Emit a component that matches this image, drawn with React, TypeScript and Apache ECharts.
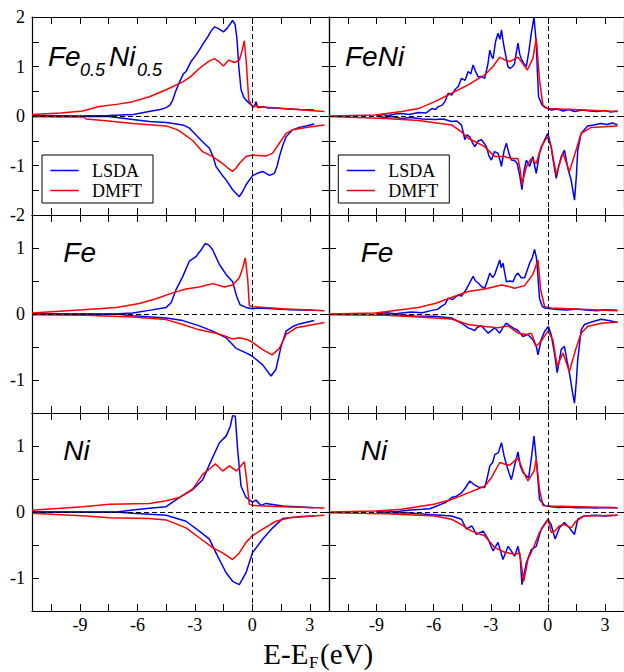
import React, { useEffect, useRef } from "react";
import * as echarts from "echarts";

type Pt = [number, number];

// ---- axes ----
const xMin = -11.5;
const xMax = 4;
const xTickValues = [-10.5, -9, -7.5, -6, -4.5, -3, -1.5, 0, 1.5, 3];
const xTickLabels = [-9, -6, -3, 0, 3];
const yRangeTop: [number, number] = [-2, 2];
const yRangeLower: [number, number] = [-1.5, 1.5];
const yTicksTop = [-1.5, -1, -0.5, 0, 0.5, 1, 1.5];
const yTicksLower = [-1, -0.5, 0, 0.5, 1];
const yLabelsTop = [-2, -1, 0, 1, 2];
const yLabelsLower = [-1, 0, 1];
const seriesNames = ["LSDA", "DMFT"];
const xTitle = ["E-E", "F", "(eV)"];

// ---- Fe0.5Ni0.5 (top left) ----
const A_lsda_up: Pt[] = [[-11.5,0.01],[-9,0.0],[-7.5,0.01],[-6.2,0.03],[-5.4,0.09],[-4.8,0.13],[-4.5,0.17],[-4.3,0.22],[-4.16,0.32],[-4.0,0.5],[-3.8,0.69],[-3.6,0.85],[-3.46,0.9],[-3.2,1.1],[-3.0,1.2],[-2.77,1.33],[-2.55,1.47],[-2.33,1.6],[-2.15,1.72],[-1.98,1.8],[-1.75,1.76],[-1.51,1.7],[-1.3,1.78],[-1.03,1.93],[-0.9,1.85],[-0.8,1.55],[-0.71,1.0],[-0.59,0.53],[-0.45,0.38],[-0.33,0.32],[0,0.2],[0.1,0.18],[0.19,0.29],[0.28,0.17],[0.37,0.17],[0.6,0.19],[0.8,0.16],[1.2,0.16],[1.5,0.15],[2.0,0.14],[2.5,0.13],[3.23,0.12]];
const A_dmft_up: Pt[] = [[-11.5,0.03],[-10,0.06],[-8.85,0.1],[-8,0.19],[-7,0.24],[-6.24,0.29],[-5.37,0.39],[-4.5,0.53],[-3.63,0.69],[-3.2,0.8],[-2.77,0.96],[-2.3,1.1],[-1.98,1.16],[-1.75,1.1],[-1.51,1.01],[-1.23,1.13],[-0.94,1.08],[-0.68,1.13],[-0.55,1.3],[-0.42,1.52],[-0.3,1.0],[-0.19,0.32],[0,0.2],[0.5,0.18],[1,0.17],[2,0.14],[3,0.11],[3.76,0.09]];
const A_lsda_dn: Pt[] = [[-11.5,-0.01],[-7.5,-0.01],[-6.24,-0.07],[-5.37,-0.11],[-4.5,-0.13],[-3.63,-0.18],[-3.3,-0.24],[-3.1,-0.32],[-2.6,-0.52],[-2.24,-0.65],[-2.05,-0.82],[-1.9,-1.02],[-1.6,-1.18],[-1.37,-1.29],[-1.03,-1.49],[-0.68,-1.63],[-0.5,-1.52],[-0.33,-1.39],[0,-1.21],[0.3,-1.15],[0.54,-1.12],[0.89,-1.2],[1.15,-1.16],[1.3,-1.0],[1.41,-0.82],[1.6,-0.58],[1.76,-0.42],[2.1,-0.28],[2.45,-0.23],[2.8,-0.2],[3.23,-0.16]];
const A_dmft_dn: Pt[] = [[-11.5,-0.01],[-8.8,-0.02],[-8.68,-0.06],[-7.5,-0.1],[-6.24,-0.15],[-4.5,-0.2],[-3.9,-0.28],[-3.63,-0.35],[-3.1,-0.5],[-2.6,-0.72],[-2.07,-0.82],[-1.55,-0.96],[-1.25,-1.06],[-1.03,-1.12],[-0.85,-1.05],[-0.68,-0.96],[-0.33,-0.82],[0.02,-0.79],[0.71,-0.81],[1.06,-0.75],[1.41,-0.55],[1.76,-0.35],[2.1,-0.28],[2.97,-0.22],[3.76,-0.18]];

// ---- FeNi (top right) ----
const D_lsda_up: Pt[] = [[-9,0.0],[-8.7,0.03],[-8.4,0.01],[-8.0,0.04],[-7.68,0.05],[-7.3,0.03],[-6.8,0.07],[-6.4,0.06],[-6.1,0.15],[-5.9,0.13],[-5.76,0.19],[-5.55,0.22],[-5.41,0.29],[-5.24,0.46],[-5.05,0.42],[-4.89,0.53],[-4.7,0.6],[-4.54,0.76],[-4.35,0.72],[-4.19,0.9],[-4.05,0.85],[-3.93,1.03],[-3.8,0.9],[-3.66,0.79],[-3.5,0.8],[-3.32,0.76],[-3.15,1.05],[-3.05,1.33],[-2.95,1.2],[-2.88,1.16],[-2.75,1.5],[-2.62,1.67],[-2.52,1.55],[-2.44,1.74],[-2.35,1.5],[-2.27,1.33],[-2.1,1.0],[-2.0,0.96],[-1.85,1.0],[-1.75,1.06],[-1.65,1.3],[-1.57,1.47],[-1.48,1.25],[-1.4,1.16],[-1.25,1.05],[-1.13,1.0],[-1.0,1.3],[-0.87,1.67],[-0.73,2.0],[-0.61,1.47],[-0.55,0.9],[-0.49,0.39],[-0.3,0.22],[-0.17,0.18],[0.17,0.12],[0.5,0.14],[0.8,0.1],[1.1,0.13],[1.4,0.09],[1.8,0.12],[2.2,0.1],[2.6,0.09],[3.0,0.11],[3.3,0.08],[3.66,0.1]];
const D_dmft_up: Pt[] = [[-11.5,0],[-9.07,0.02],[-7.68,0.09],[-6.8,0.15],[-5.93,0.29],[-5.06,0.46],[-4.19,0.63],[-3.32,0.83],[-2.88,1.0],[-2.53,1.19],[-2.2,1.12],[-2.0,1.1],[-1.57,1.19],[-1.3,1.05],[-1.08,0.93],[-0.79,1.16],[-0.61,1.57],[-0.44,0.73],[-0.26,0.22],[0,0.15],[1.92,0.12],[3.66,0.09]];
const D_lsda_dn: Pt[] = [[-9,0],[-8.6,-0.03],[-8.2,-0.01],[-7.7,-0.05],[-7.2,-0.03],[-6.6,-0.06],[-5.93,-0.07],[-5.5,-0.06],[-5.06,-0.11],[-4.8,-0.1],[-4.54,-0.18],[-4.36,-0.48],[-4.25,-0.38],[-4.1,-0.42],[-3.95,-0.55],[-3.84,-0.62],[-3.65,-0.5],[-3.49,-0.48],[-3.35,-0.55],[-3.23,-0.62],[-3.1,-0.8],[-2.97,-0.89],[-2.8,-0.72],[-2.62,-0.75],[-2.5,-0.92],[-2.44,-1.02],[-2.3,-0.7],[-2.18,-0.55],[-2.05,-0.75],[-1.92,-0.89],[-1.75,-0.9],[-1.61,-0.96],[-1.48,-1.2],[-1.36,-1.49],[-1.25,-1.1],[-1.13,-0.89],[-0.96,-1.02],[-0.79,-0.82],[-0.7,-1.0],[-0.61,-1.16],[-0.5,-0.9],[-0.44,-0.75],[-0.3,-0.6],[-0.17,-0.48],[0,-0.35],[0.17,-0.62],[0.3,-0.95],[0.44,-1.26],[0.58,-1.0],[0.7,-0.82],[0.87,-0.69],[1.05,-1.06],[1.22,-1.29],[1.4,-1.7],[1.5,-1.2],[1.57,-0.69],[1.75,-0.35],[2.09,-0.2],[2.4,-0.18],[2.79,-0.15],[3.1,-0.17],[3.4,-0.14],[3.66,-0.18]];
const D_dmft_dn: Pt[] = [[-11.5,-0.01],[-8.5,-0.05],[-6.8,-0.09],[-5.06,-0.18],[-4.54,-0.32],[-4.19,-0.45],[-3.66,-0.55],[-3.32,-0.62],[-2.79,-0.82],[-2.27,-0.82],[-1.92,-0.86],[-1.57,-0.86],[-1.45,-1.1],[-1.36,-1.39],[-1.13,-1.02],[-0.87,-0.86],[-0.61,-0.96],[-0.35,-0.62],[-0.03,-0.42],[0.17,-0.62],[0.44,-1.18],[0.79,-0.75],[1.13,-1.12],[1.48,-0.69],[1.75,-0.35],[2.27,-0.23],[3.66,-0.2]];

// ---- Fe in Fe0.5Ni0.5 (middle left) ----
const B_lsda_up: Pt[] = [[-11.5,0.0],[-7,0.005],[-6.24,0.015],[-5.4,0.055],[-4.5,0.1],[-4.24,0.17],[-3.98,0.37],[-3.63,0.57],[-3.29,0.8],[-2.94,0.87],[-2.68,0.97],[-2.45,1.07],[-2.25,1.04],[-2.07,0.97],[-1.72,0.75],[-1.37,0.6],[-1.03,0.49],[-0.82,0.27],[-0.64,0.14],[-0.33,0.1],[0,0.08],[0.37,0.09],[1,0.08],[2,0.065],[3.23,0.055]];
const B_dmft_up: Pt[] = [[-11.5,0.015],[-8.85,0.065],[-7.1,0.1],[-5.9,0.16],[-5.03,0.23],[-4.16,0.32],[-3.46,0.38],[-2.77,0.41],[-2.07,0.46],[-1.46,0.41],[-1.03,0.44],[-0.68,0.55],[-0.5,0.7],[-0.37,0.85],[-0.24,0.52],[-0.16,0.13],[0,0.11],[1.58,0.08],[3.76,0.05]];
const B_lsda_dn: Pt[] = [[-11.5,0],[-7,-0.005],[-6.24,-0.025],[-4.5,-0.06],[-3.63,-0.1],[-2.77,-0.18],[-2.07,-0.26],[-1.37,-0.36],[-0.85,-0.52],[-0.33,-0.59],[0,-0.64],[0.54,-0.77],[0.97,-0.94],[1.23,-0.84],[1.5,-0.49],[1.76,-0.26],[2.1,-0.19],[2.45,-0.15],[3.23,-0.1]];
const B_dmft_dn: Pt[] = [[-11.5,-0.01],[-8.68,-0.02],[-6.24,-0.045],[-4.5,-0.085],[-3.63,-0.16],[-2.77,-0.24],[-1.9,-0.29],[-1.37,-0.34],[-1.03,-0.38],[-0.68,-0.36],[-0.24,-0.39],[0,-0.43],[0.54,-0.54],[1.03,-0.62],[1.41,-0.52],[1.76,-0.31],[2.28,-0.21],[3.76,-0.13]];

// ---- Fe in FeNi (middle right) ----
const E_lsda_up: Pt[] = [[-9,0],[-8.5,0.02],[-8,0.005],[-7.68,0.015],[-7.2,0.03],[-6.6,0.02],[-6.1,0.055],[-5.8,0.07],[-5.58,0.12],[-5.4,0.15],[-5.24,0.24],[-5.0,0.22],[-4.71,0.29],[-4.55,0.27],[-4.36,0.34],[-4.15,0.45],[-3.93,0.57],[-3.8,0.5],[-3.66,0.47],[-3.5,0.42],[-3.32,0.39],[-3.18,0.5],[-3.05,0.62],[-2.9,0.55],[-2.79,0.6],[-2.65,0.72],[-2.53,0.82],[-2.45,0.7],[-2.36,0.77],[-2.25,0.6],[-2.18,0.49],[-2.0,0.5],[-1.83,0.49],[-1.7,0.58],[-1.57,0.62],[-1.4,0.55],[-1.22,0.55],[-1.1,0.65],[-0.96,0.77],[-0.82,0.85],[-0.7,0.98],[-0.6,0.85],[-0.56,0.72],[-0.44,0.24],[-0.3,0.12],[-0.17,0.09],[0.17,0.08],[0.5,0.07],[1.0,0.06],[1.5,0.075],[2,0.06],[2.6,0.05],[3.0,0.065],[3.66,0.055]];
const E_dmft_up: Pt[] = [[-11.5,0],[-9.07,0.015],[-6.8,0.1],[-5.93,0.16],[-5.06,0.25],[-4.19,0.34],[-3.32,0.38],[-2.44,0.44],[-2.1,0.42],[-1.75,0.39],[-1.22,0.43],[-0.79,0.6],[-0.52,0.82],[-0.38,0.37],[-0.17,0.11],[0.17,0.09],[3.66,0.05]];
const E_lsda_dn: Pt[] = [[-9,0],[-8.5,-0.02],[-7.68,-0.015],[-7,-0.03],[-5.93,-0.035],[-5.06,-0.06],[-4.54,-0.14],[-4.19,-0.21],[-3.84,-0.25],[-3.7,-0.2],[-3.49,-0.18],[-3.3,-0.24],[-3.14,-0.29],[-2.79,-0.21],[-2.53,-0.29],[-2.35,-0.2],[-2.18,-0.14],[-1.83,-0.21],[-1.57,-0.25],[-1.31,-0.34],[-1.05,-0.31],[-0.79,-0.39],[-0.6,-0.5],[-0.52,-0.62],[-0.35,-0.39],[-0.17,-0.26],[0.03,-0.19],[0.17,-0.31],[0.35,-0.6],[0.49,-0.89],[0.7,-0.54],[0.87,-0.49],[1.0,-0.7],[1.13,-0.89],[1.3,-1.2],[1.4,-1.35],[1.5,-1.0],[1.57,-0.69],[1.75,-0.24],[1.92,-0.16],[2.3,-0.12],[2.79,-0.08],[3.2,-0.1],[3.66,-0.13]];
const E_dmft_dn: Pt[] = [[-11.5,-0.01],[-8.5,-0.02],[-6.8,-0.045],[-5.06,-0.075],[-4.19,-0.16],[-3.32,-0.19],[-2.62,-0.21],[-2.09,-0.18],[-1.57,-0.29],[-1.13,-0.31],[-0.87,-0.29],[-0.61,-0.49],[-0.35,-0.41],[0,-0.26],[0.26,-0.39],[0.49,-0.79],[0.79,-0.59],[1.13,-0.87],[1.48,-0.52],[1.75,-0.29],[2.09,-0.19],[2.79,-0.14],[3.66,-0.12]];

// ---- Ni in Fe0.5Ni0.5 (bottom left) ----
const C_lsda_up: Pt[] = [[-11.5,0],[-7,0.005],[-6.24,0.03],[-5.37,0.055],[-4.5,0.08],[-3.8,0.22],[-3.11,0.34],[-2.59,0.49],[-2.16,0.77],[-1.72,1.05],[-1.37,1.15],[-1.15,1.3],[-1.03,1.46],[-0.89,1.45],[-0.77,0.95],[-0.59,0.39],[-0.33,0.22],[0,0.15],[0.19,0.18],[0.45,0.1],[0.71,0.13],[1.58,0.09],[3.23,0.065]];
const C_dmft_up: Pt[] = [[-11.5,0.025],[-8.85,0.08],[-7.46,0.116],[-5.37,0.13],[-4.5,0.17],[-3.8,0.22],[-3.11,0.35],[-2.59,0.57],[-2.16,0.67],[-1.93,0.73],[-1.55,0.62],[-1.2,0.7],[-0.82,0.62],[-0.42,0.76],[-0.3,0.49],[-0.16,0.12],[0,0.1],[1.58,0.08],[3.76,0.06]];
const C_lsda_dn: Pt[] = [[-11.5,0],[-7,-0.005],[-6.24,-0.02],[-4.5,-0.05],[-3.46,-0.14],[-2.77,-0.29],[-2.24,-0.41],[-1.9,-0.62],[-1.37,-0.92],[-1.03,-1.05],[-0.68,-1.1],[-0.33,-0.92],[0,-0.62],[0.54,-0.41],[1.06,-0.24],[1.58,-0.1],[2.45,-0.07],[3.23,-0.06]];
const C_dmft_dn: Pt[] = [[-11.5,-0.02],[-8.68,-0.06],[-7.46,-0.086],[-5.37,-0.1],[-4.5,-0.12],[-3.46,-0.24],[-2.77,-0.39],[-2.07,-0.54],[-1.55,-0.62],[-1.03,-0.72],[-0.68,-0.62],[-0.33,-0.46],[0,-0.36],[0.54,-0.26],[1.23,-0.14],[1.93,-0.086],[3.76,-0.05]];

// ---- Ni in FeNi (bottom right) ----
const F_lsda_up: Pt[] = [[-9,0],[-8.5,0.02],[-8,0.005],[-7.68,0.015],[-7.2,0.03],[-6.6,0.04],[-6.2,0.05],[-5.93,0.08],[-5.6,0.12],[-5.41,0.14],[-5.2,0.18],[-5.06,0.22],[-4.8,0.24],[-4.54,0.29],[-4.35,0.36],[-4.1,0.47],[-3.9,0.42],[-3.66,0.38],[-3.32,0.37],[-3.2,0.5],[-3.05,0.7],[-2.9,0.75],[-2.79,0.87],[-2.6,0.9],[-2.44,1.05],[-2.3,0.85],[-2.18,0.72],[-2.05,0.6],[-1.92,0.49],[-1.75,0.7],[-1.57,0.91],[-1.45,0.7],[-1.31,0.6],[-1.15,0.55],[-1.01,0.52],[-0.85,0.85],[-0.73,1.15],[-0.61,0.8],[-0.44,0.19],[-0.17,0.1],[0.17,0.08],[0.6,0.07],[1.0,0.075],[1.5,0.065],[2.0,0.07],[2.5,0.06],[3.0,0.07],[3.66,0.065]];
const F_dmft_up: Pt[] = [[-11.5,0],[-9.07,0.015],[-7.68,0.04],[-5.93,0.12],[-5.06,0.19],[-4.19,0.29],[-3.32,0.39],[-2.97,0.52],[-2.53,0.75],[-2.2,0.72],[-2.0,0.71],[-1.57,0.82],[-1.3,0.62],[-1.05,0.47],[-0.73,0.62],[-0.61,0.8],[-0.44,0.34],[-0.26,0.1],[0.17,0.09],[3.66,0.065]];
const F_lsda_dn: Pt[] = [[-9,0],[-8.5,-0.02],[-7.5,-0.01],[-6.8,-0.025],[-5.06,-0.06],[-4.54,-0.11],[-4.28,-0.26],[-4.0,-0.21],[-3.75,-0.34],[-3.4,-0.29],[-3.14,-0.41],[-2.88,-0.59],[-2.62,-0.46],[-2.36,-0.72],[-2.09,-0.52],[-1.9,-0.6],[-1.75,-0.67],[-1.57,-0.52],[-1.45,-0.7],[-1.36,-1.1],[-1.13,-0.77],[-0.87,-0.57],[-0.61,-0.52],[-0.35,-0.26],[0,-0.11],[0.17,-0.19],[0.38,-0.41],[0.61,-0.24],[0.87,-0.16],[1.13,-0.24],[1.4,-0.34],[1.57,-0.11],[1.9,-0.06],[2.5,-0.05],[3.0,-0.06],[3.66,-0.05]];
const F_dmft_dn: Pt[] = [[-11.5,-0.01],[-8.5,-0.025],[-5.93,-0.06],[-5.06,-0.11],[-4.54,-0.19],[-4.01,-0.29],[-3.32,-0.36],[-2.79,-0.54],[-2.27,-0.61],[-1.75,-0.64],[-1.48,-0.62],[-1.27,-1.05],[-1.05,-0.72],[-0.73,-0.52],[-0.44,-0.31],[-0.17,-0.19],[0.03,-0.11],[0.17,-0.31],[0.35,-0.29],[0.61,-0.21],[0.87,-0.19],[1.22,-0.24],[1.48,-0.14],[1.92,-0.06],[3.66,-0.05]];

const panelData = [
  { lsda: [A_lsda_up, A_lsda_dn], dmft: [A_dmft_up, A_dmft_dn] },
  { lsda: [D_lsda_up, D_lsda_dn], dmft: [D_dmft_up, D_dmft_dn] },
  { lsda: [B_lsda_up, B_lsda_dn], dmft: [B_dmft_up, B_dmft_dn] },
  { lsda: [E_lsda_up, E_lsda_dn], dmft: [E_dmft_up, E_dmft_dn] },
  { lsda: [C_lsda_up, C_lsda_dn], dmft: [C_dmft_up, C_dmft_dn] },
  { lsda: [F_lsda_up, F_lsda_dn], dmft: [F_dmft_up, F_dmft_dn] },
];

const BLUE = "#0000ff";
const RED = "#ff0000";
const SERIF = "Liberation Serif";
const SANS = "Liberation Sans";

const colLeft = [32, 329];
const colRight = [624 - 329, -2];
const rowTop = [17, 215, 413];
const rowH = 198;

function buildOption() {
  const grid: any[] = [];
  const xAxis: any[] = [];
  const yAxis: any[] = [];
  const series: any[] = [];
  const axisLine = { show: true, onZero: false, lineStyle: { color: "#000", width: 1.2 } };
  for (let r = 0; r < 3; r++) {
    for (let c = 0; c < 2; c++) {
      const i = r * 2 + c;
      grid.push({ left: colLeft[c], right: colRight[c], top: rowTop[r], height: rowH, containLabel: false });
      const yr = r === 0 ? yRangeTop : yRangeLower;
      const yt = r === 0 ? yTicksTop : yTicksLower;
      const yl = r === 0 ? yLabelsTop : yLabelsLower;
      const tick = (vals: number[]) => ({ show: true, inside: true, length: 7, customValues: vals, lineStyle: { color: "#000", width: 1 } });
      xAxis.push({
        gridIndex: i, type: "value", min: xMin, max: xMax, position: "bottom",
        axisLine, axisTick: tick(xTickValues), splitLine: { show: false },
        axisLabel: { show: r === 2, customValues: xTickLabels, fontSize: 18, fontFamily: SERIF, color: "#000", margin: 5 },
      });
      xAxis.push({
        gridIndex: i, type: "value", min: xMin, max: xMax, position: "top",
        axisLine, axisTick: tick(xTickValues), splitLine: { show: false }, axisLabel: { show: false },
      });
      yAxis.push({
        gridIndex: i, type: "value", min: yr[0], max: yr[1], position: "left",
        axisLine, axisTick: tick(yt), splitLine: { show: false },
        axisLabel: { show: c === 0, customValues: yl, fontSize: 18, fontFamily: SERIF, color: "#000", margin: 7 },
      });
      yAxis.push({
        gridIndex: i, type: "value", min: yr[0], max: yr[1], position: "right",
        axisLine, axisTick: tick(yt), splitLine: { show: false }, axisLabel: { show: false },
      });
      const p = panelData[i];
      const mk = (name: string, data: Pt[], color: string, withMark: boolean) => {
        const s: any = {
          name, type: "line", xAxisIndex: 2 * i, yAxisIndex: 2 * i, data,
          showSymbol: false, symbol: "none", silent: true, clip: true,
          lineStyle: { color, width: 1.5 }, itemStyle: { color },
        };
        if (withMark) {
          s.markLine = {
            silent: true, symbol: "none", label: { show: false }, animation: false,
            lineStyle: { color: "#000", type: [5, 3], width: 1 },
            data: [{ xAxis: 0 }, { yAxis: 0 }],
          };
        }
        return s;
      };
      series.push(mk(seriesNames[0], p.lsda[0], BLUE, true));
      series.push(mk(seriesNames[0], p.lsda[1], BLUE, false));
      series.push(mk(seriesNames[1], p.dmft[0], RED, false));
      series.push(mk(seriesNames[1], p.dmft[1], RED, false));
    }
  }

  const label = (text: string, x: number, baseline: number, size: number) => ({
    type: "text", x, y: baseline - 0.35 * size, z: 100,
    style: { text, fontSize: size, fontFamily: SANS, fontStyle: "italic", fill: "#000", align: "left", verticalAlign: "middle" },
  });
  const serifText = (text: string, x: number, baseline: number, size: number) => ({
    type: "text", x, y: baseline - 0.3375 * size, z: 100,
    style: { text, fontSize: size, fontFamily: SERIF, fill: "#000", align: "left", verticalAlign: "middle" },
  });
  const legend = (x0: number) => [
    { type: "rect", z: 99, shape: { x: x0, y: 155, width: 111, height: 48 }, style: { fill: "#fff", stroke: "#000", lineWidth: 1 } },
    { type: "line", z: 100, shape: { x1: x0 + 8.4, y1: 170.5, x2: x0 + 36.7, y2: 170.5 }, style: { stroke: BLUE, lineWidth: 1.5 } },
    { type: "line", z: 100, shape: { x1: x0 + 8.4, y1: 190.5, x2: x0 + 36.7, y2: 190.5 }, style: { stroke: RED, lineWidth: 1.5 } },
    serifText(seriesNames[0], x0 + 50, 176.7, 18),
    serifText(seriesNames[1], x0 + 50, 196.7, 18),
  ];

  const graphic = [
    label("Fe", 48, 66.7, 28),
    label("0.5", 80, 76.7, 18),
    label("Ni", 109, 66.7, 28),
    label("0.5", 137, 76.7, 18),
    label("FeNi", 345, 66.7, 28),
    label("Fe", 63.3, 262.3, 28),
    label("Fe", 360.7, 262.3, 28),
    label("Ni", 63.3, 460, 28),
    label("Ni", 360.7, 460, 28),
    ...legend(42),
    ...legend(338.3),
    serifText(xTitle[0], 263.3, 663.3, 29),
    serifText(xTitle[1], 309, 668.5, 17),
    serifText(xTitle[2], 320, 663.3, 29),
  ];

  return {
    animation: false,
    backgroundColor: "#fff",
    textStyle: { fontFamily: SERIF },
    grid, xAxis, yAxis, series, graphic,
  };
}

export default function App() {
  const ref = useRef<HTMLDivElement>(null);
  useEffect(() => {
    if (!ref.current) return;
    const chart = echarts.init(ref.current, undefined, { renderer: "svg" });
    chart.setOption(buildOption() as any);
    return () => chart.dispose();
  }, []);
  return (
    <div
      ref={ref}
      style={{ position: "absolute", left: 0, top: 0, width: 624, height: 672, overflow: "hidden" }}
    />
  );
}
